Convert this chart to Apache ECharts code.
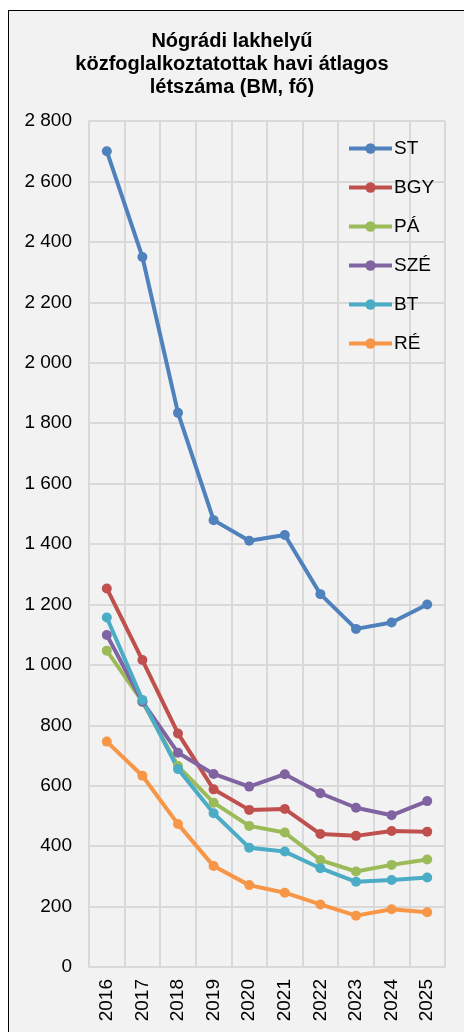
<!DOCTYPE html>
<html>
<head>
<meta charset="utf-8">
<script src="https://cdn.jsdelivr.net/npm/echarts@6/dist/echarts.min.js"></script>
<style>
  html, body { margin: 0; padding: 0; background: #fff; }
  #box {
    position: absolute; left: 8px; top: 10px; width: 456px; height: 1022px;
    background: #f2f2f2; border-top: 1px solid #000; border-left: 1px solid #000;
  }
  #chart { position: absolute; left: 0; top: 0; width: 464px; height: 1032px; }
</style>
</head>
<body>
<div id="box"></div>
<div id="chart"></div>
<script>
// évek
const years = ['2016', '2017', '2018', '2019', '2020', '2021', '2022', '2023', '2024', '2025']

// járások
const ST  = [2700, 2350, 1834, 1479, 1411, 1430, 1234, 1119, 1140, 1200]
const BGY = [1253, 1016, 773, 588, 520, 523, 440, 434, 450, 448]
const PA  = [1047, 878, 665, 544, 467, 445, 354, 316, 338, 356]
const SZE = [1099, 878, 709, 639, 597, 638, 575, 527, 502, 549]
const BT  = [1157, 884, 655, 509, 395, 382, 327, 282, 288, 296]
const RE  = [746, 633, 473, 334, 271, 246, 207, 170, 191, 181]

const seriesNames = ['ST', 'BGY', 'PÁ', 'SZÉ', 'BT', 'RÉ']
const seriesData = [ST, BGY, PA, SZE, BT, RE]
const colors = ['#4f81bd', '#c0504d', '#9bbb59', '#8064a2', '#4bacc6', '#f79646']

let chart = echarts.init(document.getElementById('chart'), null, { renderer: 'canvas' })

let seriesList = []
for (let [i, name] of seriesNames.entries()) {
  seriesList.push({
    name: name,
    type: 'line',
    data: seriesData[i],
    symbol: 'circle',
    symbolSize: 10,
    lineStyle: { width: 4, color: colors[i] },
    itemStyle: { color: colors[i] }
  })
}

let option = {
  backgroundColor: 'transparent',
  animation: false,
  textStyle: { fontFamily: 'Liberation Sans, Arial, sans-serif' },
  title: {
    text: 'Nógrádi lakhelyű\nközfoglalkoztatottak havi átlagos\nlétszáma (BM, fő)',
    left: 'center',
    top: 25,
    textStyle: {
      fontSize: 20,
      fontWeight: 'bold',
      color: '#000',
      lineHeight: 23,
      fontFamily: 'Liberation Sans, Arial, sans-serif'
    }
  },
  legend: {
    orient: 'vertical',
    left: 342,
    top: 134,
    itemWidth: 43,
    itemHeight: 13,
    itemGap: 20,
    data: seriesNames,
    lineStyle: { width: 4 },
    textStyle: { fontSize: 19, color: '#000', padding: [0, 0, 0, -3] }
  },
  grid: {
    left: 89,
    right: 19,
    top: 121,
    bottom: 65,
    containLabel: false
  },
  xAxis: {
    type: 'category',
    data: years,
    boundaryGap: true,
    axisLine: { lineStyle: { color: '#d9d9d9', width: 2 } },
    axisTick: { show: false },
    axisLabel: { rotate: 90, fontSize: 19, color: '#000', margin: 12 },
    splitLine: { show: true, lineStyle: { color: '#d9d9d9', width: 2 } }
  },
  yAxis: {
    type: 'value',
    min: 0,
    max: 2800,
    interval: 200,
    axisLine: { show: true, lineStyle: { color: '#d9d9d9', width: 2 } },
    axisTick: { show: false },
    axisLabel: {
      fontSize: 19,
      color: '#000',
      margin: 17,
      formatter: v => String(v).replace(/\B(?=(\d{3})+(?!\d))/g, ' ')
    },
    splitLine: { lineStyle: { color: '#d9d9d9', width: 2 } }
  },
  series: seriesList
}

chart.setOption(option)
</script>
</body>
</html>
